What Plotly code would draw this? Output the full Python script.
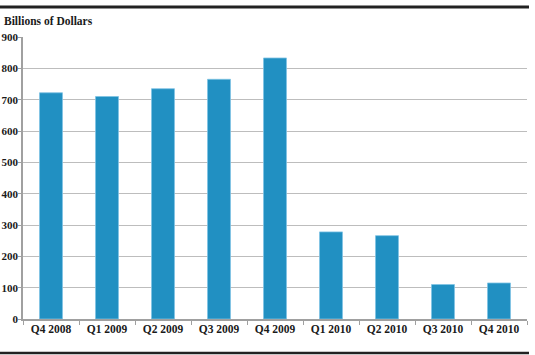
import plotly.graph_objects as go

categories = ["Q4 2008", "Q1 2009", "Q2 2009", "Q3 2009", "Q4 2009",
              "Q1 2010", "Q2 2010", "Q3 2010", "Q4 2010"]
values = [722, 710, 735, 765, 833, 278, 266, 110, 115]
y_ticks = [0, 100, 200, 300, 400, 500, 600, 700, 800, 900]
y_title = "Billions of Dollars"

W, H = 535, 355
L, R, T, B = 23, 8, 37, 36
pw, ph = W - L - R, H - T - B

def px_x(x):
    return (x - L) / pw

def px_y(y):
    return (H - B - y) / ph

font_family = "Liberation Serif, Times New Roman, serif"

fig = go.Figure(go.Bar(
    x=categories, y=values,
    marker=dict(color="#2190c2", line=dict(color="#7fc3e3", width=0.8)),
))

fig.update_layout(
    width=W, height=H,
    margin=dict(l=L, r=R, t=T, b=B, autoexpand=False),
    paper_bgcolor="white", plot_bgcolor="white",
    bargap=0.59,
    showlegend=False,
    font=dict(family=font_family, size=11, color="#1a1a1a"),
    xaxis=dict(
        type="category", tickson="boundaries", automargin=False,
        showline=True, linecolor="#a0a0a0", linewidth=1.5,
        ticks="outside", ticklen=4, tickcolor="#a0a0a0",
        ticklabelstandoff=-2,
        showgrid=False,
        tickfont=dict(family=font_family, size=11.5, color="#1a1a1a", weight="bold"),
    ),
    yaxis=dict(
        range=[0, 900], tickvals=y_ticks, automargin=False,
        showline=True, linecolor="#a0a0a0", linewidth=1.5,
        ticks="outside", ticklen=3, tickcolor="#a0a0a0",
        ticklabelstandoff=-2,
        gridcolor="#bdbdbd", gridwidth=1.2,
        zeroline=False,
        tickfont=dict(family=font_family, size=11, color="#1a1a1a", weight="bold"),
    ),
    shapes=[
        dict(type="line", xref="paper", yref="paper",
             x0=px_x(0), x1=px_x(529), y0=px_y(7), y1=px_y(7),
             line=dict(color="#222222", width=3)),
        dict(type="line", xref="paper", yref="paper",
             x0=px_x(0), x1=px_x(529), y0=px_y(353), y1=px_y(353),
             line=dict(color="#222222", width=2.5)),
    ],
    annotations=[
        dict(text=y_title, xref="paper", yref="paper",
             x=px_x(2), y=px_y(21), xanchor="left", yanchor="middle",
             showarrow=False,
             font=dict(family=font_family, size=11.5, color="#1a1a1a", weight="bold")),
    ],
)

fig.write_html("out.html")
